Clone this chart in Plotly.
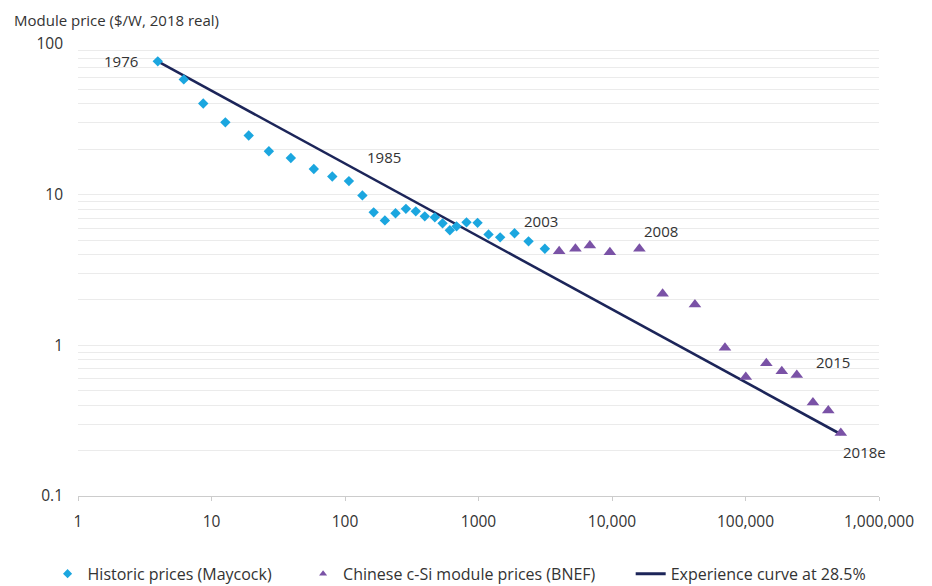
import math
import plotly.graph_objects as go

# ---------------- data ----------------
hist_years = list(range(1976, 2004))
hist_cum_mw = [3.96, 6.2, 8.67, 12.7, 19.0, 26.9, 39.3, 58.4, 80.3, 107,
               135, 164, 199, 239, 286, 339, 396, 471, 538, 610,
               685, 813, 984, 1189, 1453, 1862, 2371, 3141]
hist_price = [76.7, 58.2, 40.3, 30.2, 24.7, 19.4, 17.5, 14.8, 13.2, 12.3,
              9.89, 7.63, 6.75, 7.52, 8.05, 7.75, 7.18, 7.07, 6.45, 5.80,
              6.16, 6.55, 6.50, 5.45, 5.21, 5.54, 4.90, 4.38]

cn_years = list(range(2004, 2019))
cn_cum_mw = [4020, 5321, 6826, 9643, 16040, 23940, 41800, 70180, 100500,
             143200, 187000, 242200, 320000, 417000, 517500]
cn_price = [4.21, 4.37, 4.59, 4.14, 4.37, 2.20, 1.87, 0.965, 0.616,
            0.760, 0.672, 0.635, 0.417, 0.369, 0.262]

curve_x = [3.96, 517500]
curve_y = [76.7, 0.257]

x_tick_vals = [1, 10, 100, 1000, 10000, 100000, 1000000]
x_tick_text = ["1", "10", "100", "1000", "10,000", "100,000", "1,000,000"]

# labelled years: (text, series, index)
year_labels = [("1976", "hist", 0), ("1985", "hist", 9), ("2003", "hist", 27),
               ("2008", "cn", 4), ("2015", "cn", 11), ("2018e", "cn", 14)]

# ---------------- styling ----------------
C_HIST = "#1ba6df"
C_CN = "#7a52a6"
C_LINE = "#1c2559"
TXT = "#333333"
FONT = "Open Sans"

label_offsets = {"1976": (-18, 0, "right"), "1985": (35, 24, "center"),
                 "2003": (-4, 28, "center"), "2008": (22, 18, "center"),
                 "2015": (36, 13, "center"), "2018e": (24, -19, "center")}

# y gridlines at every 1..9 multiple of each decade
y_tick_vals, y_tick_text = [], []
for dec in [0.1, 1, 10]:
    for m in range(1, 10):
        y_tick_vals.append(round(dec * m, 6))
        y_tick_text.append(f"{dec*m:g}" if m == 1 else "")
y_tick_vals.append(100)
y_tick_text.append("100")

fig = go.Figure()

fig.add_trace(go.Scatter(x=curve_x, y=curve_y, mode="lines",
                         line=dict(color=C_LINE, width=2.6),
                         showlegend=False, hoverinfo="skip"))
fig.add_trace(go.Scatter(x=hist_cum_mw, y=hist_price, mode="markers",
                         marker=dict(symbol="diamond", size=8, color=C_HIST),
                         text=hist_years, showlegend=False))
fig.add_trace(go.Scatter(x=cn_cum_mw, y=cn_price, mode="markers",
                         marker=dict(symbol="triangle-up", size=11, color=C_CN),
                         text=cn_years, showlegend=False))

# legend entries (small symbols as in the original), one legend each
fig.add_trace(go.Scatter(x=[None], y=[None], mode="markers", name="Historic prices (Maycock)",
                         marker=dict(symbol="diamond", size=7, color=C_HIST), legend="legend"))
fig.add_trace(go.Scatter(x=[None], y=[None], mode="markers",
                         name="Chinese c-Si module prices (BNEF)",
                         marker=dict(symbol="triangle-up", size=7, color=C_CN), legend="legend2"))
fig.add_trace(go.Scatter(x=[None], y=[None], mode="lines", name="Experience curve at 28.5%",
                         line=dict(color=C_LINE, width=3), legend="legend3"))

series = {"hist": (hist_cum_mw, hist_price), "cn": (cn_cum_mw, cn_price)}
for text, s, i in year_labels:
    xs, ys = series[s]
    dx, dy, anc = label_offsets[text]
    fig.add_annotation(x=math.log10(xs[i]), y=math.log10(ys[i]), xref="x", yref="y",
                       text=text, showarrow=False, xanchor=anc, yanchor="middle",
                       xshift=dx, yshift=dy,
                       font=dict(family=FONT, size=15, color=TXT))

fig.add_annotation(text="Module price ($/W, 2018 real)", xref="paper", yref="paper",
                   x=-0.082, y=1.0, xanchor="left", yanchor="middle", yshift=24,
                   showarrow=False, font=dict(family=FONT, size=15, color=TXT))

fig.update_xaxes(type="log", range=[0, 6], tickvals=x_tick_vals, ticktext=x_tick_text,
                 showgrid=False, zeroline=False, showline=True, linecolor="#cccccc",
                 linewidth=1, ticks="outside", ticklen=4, tickcolor="#cccccc",
                 ticklabelstandoff=7, automargin=False,
                 tickfont=dict(family=FONT, size=15.5, color=TXT))
fig.update_yaxes(type="log", range=[-1, 2], tickvals=y_tick_vals, ticktext=y_tick_text,
                 showgrid=True, gridcolor="#ebebeb", gridwidth=1, zeroline=False,
                 showline=False, ticks="", ticklabelstandoff=14, automargin=False,
                 tickfont=dict(family=FONT, size=15.5, color=TXT))

leg_common = dict(orientation="h", y=-0.172, yanchor="middle", xanchor="left",
                  font=dict(family=FONT, size=16, color=TXT), bgcolor="rgba(0,0,0,0)")
# the page body adds an 8px offset, so the figure is 8px smaller than the window
fig.update_layout(width=924, height=578,
                  margin=dict(l=70, r=53, t=36, b=90, autoexpand=False),
                  paper_bgcolor="white", plot_bgcolor="white",
                  font=dict(family=FONT, color=TXT),
                  legend=dict(x=-0.038, **leg_common),
                  legend2=dict(x=0.281, **leg_common),
                  legend3=dict(x=0.690, **leg_common),
                  hovermode="closest")

fig.write_html("out.html")
